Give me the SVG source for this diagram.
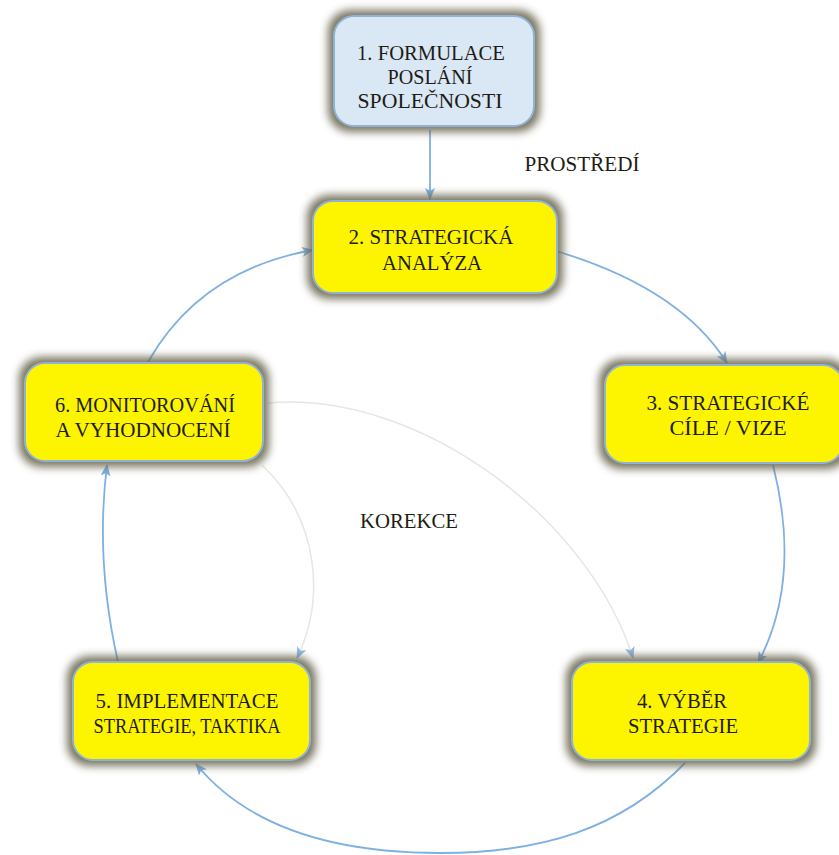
<svg xmlns="http://www.w3.org/2000/svg" width="839" height="855" viewBox="0 0 839 855">
  <style>
    .lbl { font-family: "Liberation Serif", "Times New Roman", serif; font-size: 21px; fill: #1e1c14; text-anchor: middle; }
    .box { stroke: #8fb2d6; stroke-width: 2; }
    .yellow { fill: #fdf500; }
    .blue { fill: #dae8f6; }
    .halo { fill: #6a6650; opacity: 0.9; filter: url(#soft); }
    .link { fill: none; stroke: #7eb0e2; stroke-width: 1.8; marker-end: url(#head); }
    .faint { fill: none; stroke: #e6e6e6; stroke-width: 1.5; marker-end: url(#headSmall); }
  </style>
  <defs>
    <filter id="soft" x="-20%" y="-30%" width="140%" height="160%">
      <feGaussianBlur stdDeviation="4.5"/>
    </filter>
    <marker id="head" viewBox="0 0 12 10" refX="11" refY="5" markerWidth="12" markerHeight="10" markerUnits="userSpaceOnUse" orient="auto">
      <path d="M0,0 L12,5 L0,10 L3,5 Z" fill="#7eb0e2"/>
    </marker>
    <marker id="headSmall" viewBox="0 0 12 10" refX="11" refY="5" markerWidth="12" markerHeight="10" markerUnits="userSpaceOnUse" orient="auto">
      <path d="M0,0 L12,5 L0,10 L3,5 Z" fill="#8dbbe6"/>
    </marker>
  </defs>

  <rect width="839" height="855" fill="#ffffff"/>

  <!-- free labels -->
  <text class="lbl" x="582" y="171" textLength="115" lengthAdjust="spacingAndGlyphs">PROSTŘEDÍ</text>
  <text class="lbl" x="409" y="528" textLength="98" lengthAdjust="spacingAndGlyphs">KOREKCE</text>

  <!-- connectors -->
  <g id="connectors">
    <path class="faint" d="M268,403 C420,390 590,520 633,658"/>
    <path class="faint" d="M262,465 C320,520 325,600 297,658"/>
    <path class="link" d="M430,130 L430,199"/>
    <path class="link" d="M556,251 Q680,288 727,363"/>
    <path class="link" d="M773,465 Q802,580 758,663"/>
    <path class="link" d="M685,763 C620,830 540,853 440,853 C340,853 250,830 196,764"/>
    <path class="link" d="M118,662 Q95,560 107,465"/>
    <path class="link" d="M148,362 Q200,270 313,250"/>
  </g>

  <g id="node1">
    <rect class="halo" x="328" y="10" width="212" height="122" rx="22"/>
    <rect class="box blue" x="334" y="16" width="200" height="110" rx="20"/>
    <text class="lbl" x="431" y="60" textLength="148" lengthAdjust="spacingAndGlyphs">1. FORMULACE</text>
    <text class="lbl" x="430" y="84" textLength="85" lengthAdjust="spacingAndGlyphs">POSLÁNÍ</text>
    <text class="lbl" x="430" y="108" textLength="145" lengthAdjust="spacingAndGlyphs">SPOLEČNOSTI</text>
  </g>

  <g id="node2">
    <rect class="halo" x="307" y="195" width="256" height="104" rx="22"/>
    <rect class="box yellow" x="313" y="201" width="244" height="92" rx="20"/>
    <text class="lbl" x="431" y="244" textLength="165" lengthAdjust="spacingAndGlyphs">2. STRATEGICKÁ</text>
    <text class="lbl" x="432" y="270" textLength="100" lengthAdjust="spacingAndGlyphs">ANALÝZA</text>
  </g>

  <g id="node3">
    <rect class="halo" x="599" y="359" width="250" height="110" rx="22"/>
    <rect class="box yellow" x="605" y="365" width="238" height="98" rx="20"/>
    <text class="lbl" x="728" y="410" textLength="163" lengthAdjust="spacingAndGlyphs">3. STRATEGICKÉ</text>
    <text class="lbl" x="728" y="435" textLength="117" lengthAdjust="spacingAndGlyphs">CÍLE / VIZE</text>
  </g>

  <g id="node4">
    <rect class="halo" x="566" y="656" width="250" height="110" rx="22"/>
    <rect class="box yellow" x="572" y="662" width="238" height="98" rx="20"/>
    <text class="lbl" x="682" y="708" textLength="90" lengthAdjust="spacingAndGlyphs">4. VÝBĚR</text>
    <text class="lbl" x="683" y="733" textLength="110" lengthAdjust="spacingAndGlyphs">STRATEGIE</text>
  </g>

  <g id="node5">
    <rect class="halo" x="67" y="656" width="249" height="110" rx="22"/>
    <rect class="box yellow" x="73" y="662" width="237" height="98" rx="20"/>
    <text class="lbl" x="187" y="708" textLength="183" lengthAdjust="spacingAndGlyphs">5. IMPLEMENTACE</text>
    <text class="lbl" x="187" y="733" textLength="187" lengthAdjust="spacingAndGlyphs">STRATEGIE, TAKTIKA</text>
  </g>

  <g id="node6">
    <rect class="halo" x="19" y="357" width="250" height="110" rx="22"/>
    <rect class="box yellow" x="25" y="363" width="238" height="98" rx="20"/>
    <text class="lbl" x="145" y="412" textLength="180" lengthAdjust="spacingAndGlyphs">6. MONITOROVÁNÍ</text>
    <text class="lbl" x="143" y="437" textLength="175" lengthAdjust="spacingAndGlyphs">A VYHODNOCENÍ</text>
  </g>
</svg>
